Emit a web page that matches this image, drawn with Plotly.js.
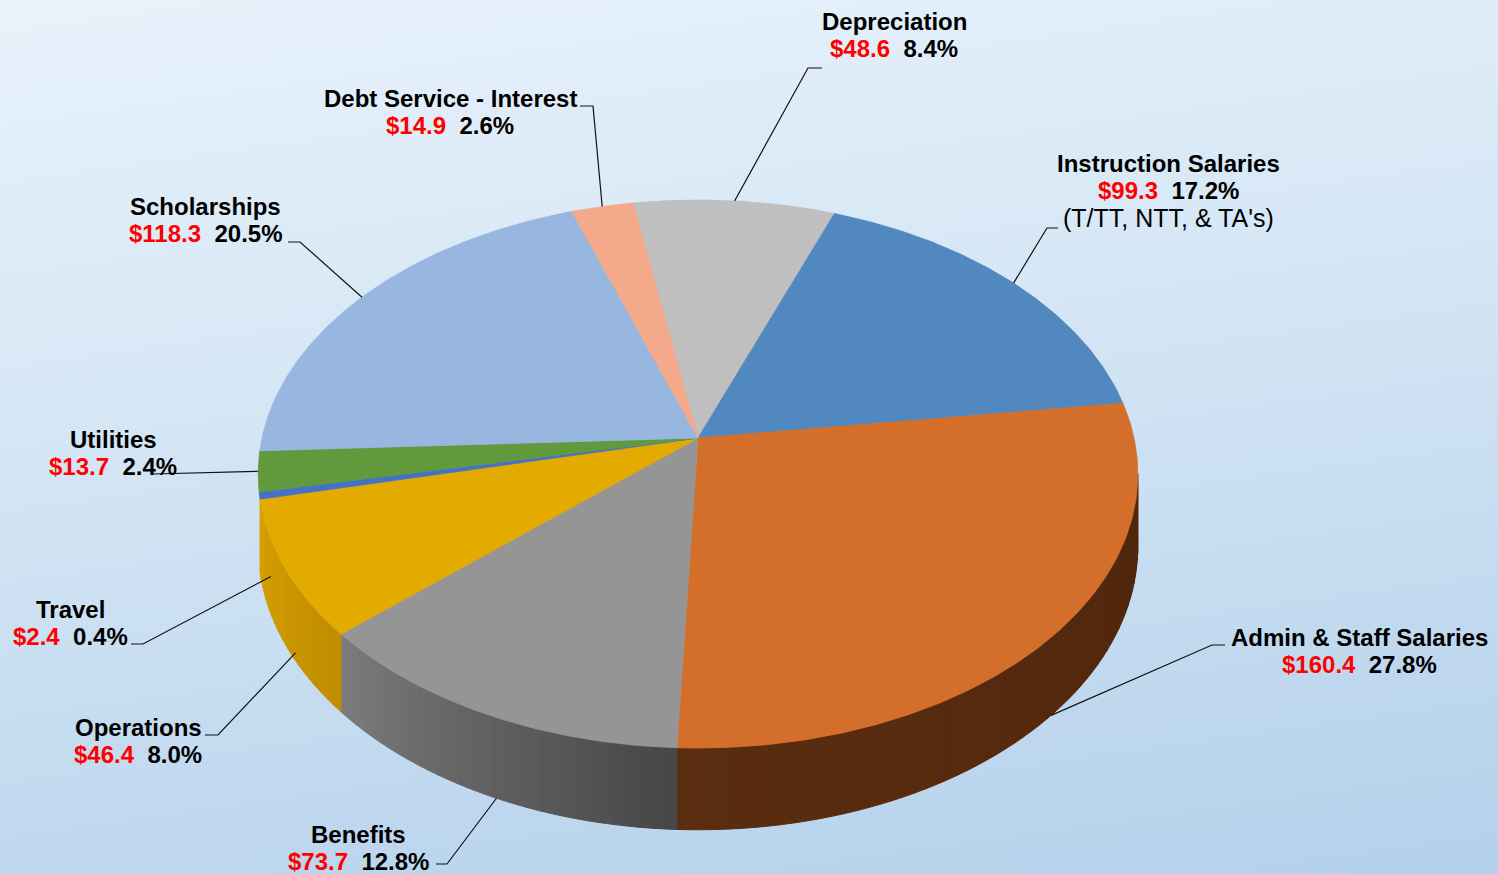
<!DOCTYPE html>
<html><head><meta charset="utf-8">
<script src="https://cdn.plot.ly/plotly-3.0.1.min.js"></script>
<style>
html,body{margin:0;padding:0;overflow:hidden;}
#chart{width:1498px;height:874px;background:linear-gradient(172deg,#e8f2fb 0%,#d3e5f4 45%,#b3d0eb 100%);}
</style>
</head><body><div id="chart"></div>
<script>
// ---- data ----
const categories = ['Depreciation','Instruction Salaries','Admin & Staff Salaries','Benefits','Operations','Travel','Utilities','Scholarships','Debt Service - Interest'];
const amounts = [48.6, 99.3, 160.4, 73.7, 46.4, 2.4, 13.7, 118.3, 14.9];
const notes = ['', "(T/TT, NTT, & TA's)", '', '', '', '', '', '', ''];

// ---- styles ----
const topColors = ['#bfbfbf','#5088bf','#d36f2b','#959595','#e3aa00','#4472c4','#619a3c','#97b7e0','#f3a98a'];
// side colours: [at start angle, at end angle]
const sideColors = [['#8a8a8a','#8a8a8a'],['#2f5f8f','#2f5f8f'],['#4e250b','#5a2d10'],['#464646','#7c7c7c'],['#c08d00','#d6a100'],['#2f5597','#2f5597'],['#46732a','#46732a'],['#6d8fb8','#6d8fb8'],['#c0805f','#c0805f']];
// label placement and leader-line routing (layout only)
const labelLayout = [
  {x:894, y:21,  lead:[[822,68],[808,68]]},
  {x:1168,y:163, lead:[[1058,228],[1047,228]]},
  {x:1359,y:637, lead:[[1225,645],[1212,645]]},
  {x:358, y:834, lead:[[436,864],[447,864]], anchorDeg:204, anchorDrop:1},
  {x:138, y:727, lead:[[205,735],[218,735]], anchorDeg:239.5, anchorDrop:0.9},
  {x:70,  y:609, lead:[[131,644],[143,644]], anchorDeg:249, anchorDrop:0.5},
  {x:113, y:439, lead:[[153,474]]},
  {x:205, y:206, lead:[[288,242],[300,242]]},
  {x:450, y:98,  lead:[[580,106],[593,106]]}
];

// ---- geometry (perspective disc) ----
const CX=698, CY=438, A=436, B=269.3, K=0.1314, D=71, START=-9.7;
function P(th, drop){
  const t=th*Math.PI/180, u=Math.sin(t), v=Math.cos(t), den=1+K*v;
  return [CX + A*u/den, CY - B*v/den + drop*D/den];
}
const TH_R = 97.5, TH_L = 257.2;

const total = amounts.reduce((a,b)=>a+b,0);
const starts=[], ends=[];
let acc = START;
amounts.forEach(v=>{ starts.push(acc); acc += v/total*360; ends.push(acc); });

function hex2rgb(h){return [parseInt(h.slice(1,3),16),parseInt(h.slice(3,5),16),parseInt(h.slice(5,7),16)];}
function mix(c1,c2,f){const a=hex2rgb(c1),b=hex2rgb(c2);return 'rgb('+a.map((x,i)=>Math.round(x+(b[i]-x)*f)).join(',')+')';}

const traces=[];
// side wall strips
amounts.forEach((v,i)=>{
  let s=starts[i], e=ends[i];
  while (s<0){s+=360;e+=360;}
  const a0=Math.max(s,TH_R), a1=Math.min(e,TH_L);
  if (a1<=a0+0.2) return;
  const n=Math.max(1,Math.ceil((a1-a0)/1.5));
  for(let j=0;j<n;j++){
    const t0=a0+(a1-a0)*j/n, t1=a0+(a1-a0)*(j+1)/n;
    const f=((t0+t1)/2 - s)/(e-s);
    const col=mix(sideColors[i][0],sideColors[i][1],f);
    const pts=[P(t0,0),P(t1,0),P(t1,1),P(t0,1),P(t0,0)];
    traces.push({type:'scatter',mode:'lines',x:pts.map(p=>p[0]),y:pts.map(p=>p[1]),fill:'toself',fillcolor:col,line:{color:col,width:1},hoverinfo:'skip',showlegend:false});
  }
});
// top faces
amounts.forEach((v,i)=>{
  const s=starts[i], e=ends[i];
  const n=Math.max(2,Math.ceil((e-s)/0.5));
  const xs=[CX], ys=[CY];
  for(let j=0;j<=n;j++){const p=P(s+(e-s)*j/n,0);xs.push(p[0]);ys.push(p[1]);}
  xs.push(CX); ys.push(CY);
  traces.push({type:'scatter',mode:'lines',x:xs,y:ys,fill:'toself',fillcolor:topColors[i],line:{color:topColors[i],width:0.8},hoverinfo:'skip',showlegend:false,name:categories[i]});
});
// labels and leader lines
const annotations=[];
const font={family:'Liberation Sans, Arial, sans-serif',size:24,color:'#000',weight:'bold'};
amounts.forEach((v,i)=>{
  const L=labelLayout[i];
  const mid=(starts[i]+ends[i])/2;
  let m=mid; while(m<0)m+=360; while(m>=360)m-=360;
  const th = (L.anchorDeg!==undefined) ? L.anchorDeg : mid;
  const drop = (L.anchorDrop!==undefined) ? L.anchorDrop : ((m>TH_R && m<TH_L) ? 1 : 0);
  const anc=P(th,drop);
  const pts=L.lead.concat([anc]);
  traces.push({type:'scatter',mode:'lines',x:pts.map(p=>p[0]),y:pts.map(p=>p[1]),line:{color:'#111',width:1.2},hoverinfo:'skip',showlegend:false});
  const pct=(v/total*100).toFixed(1)+'%';
  annotations.push({x:L.x,y:L.y,xref:'x',yref:'y',text:categories[i],showarrow:false,xanchor:'center',yanchor:'middle',font:font});
  annotations.push({x:L.x,y:L.y+27.5,xref:'x',yref:'y',text:'<span style="color:#ff0000">$'+v.toFixed(1)+'</span>&nbsp;&nbsp;'+pct,showarrow:false,xanchor:'center',yanchor:'middle',font:font});
  if(notes[i]) annotations.push({x:L.x,y:L.y+55,xref:'x',yref:'y',text:notes[i],showarrow:false,xanchor:'center',yanchor:'middle',font:Object.assign({},font,{weight:'normal',size:25})});
});

const layout={
  width:1498,height:874,margin:{l:0,r:0,t:0,b:0},
  paper_bgcolor:'rgba(0,0,0,0)',plot_bgcolor:'rgba(0,0,0,0)',
  xaxis:{range:[0,1498],visible:false,fixedrange:true},
  yaxis:{range:[874,0],visible:false,fixedrange:true},
  showlegend:false,annotations:annotations
};
Plotly.newPlot('chart',traces,layout,{displayModeBar:false,staticPlot:true});
</script></body></html>
